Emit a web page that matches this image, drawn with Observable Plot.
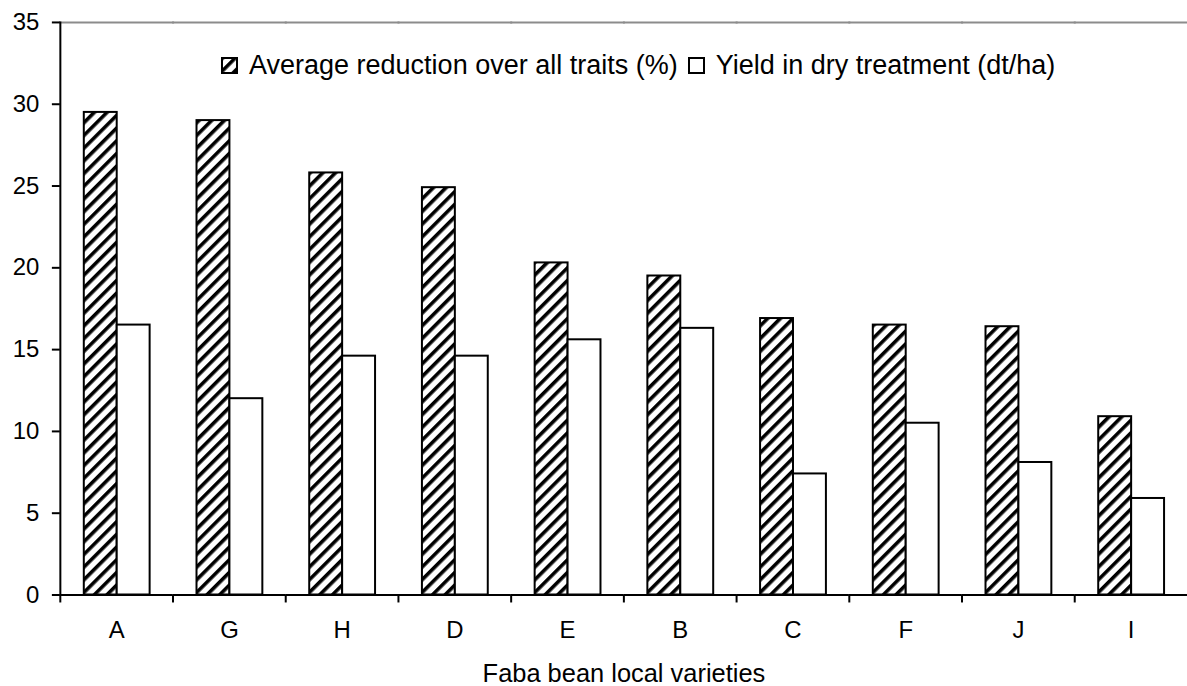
<!DOCTYPE html>
<html>
<head>
<meta charset="utf-8">
<script src="https://cdn.jsdelivr.net/npm/d3@7"></script>
<script src="https://cdn.jsdelivr.net/npm/@observablehq/plot@0.6"></script>
<style>
  html, body { margin: 0; padding: 0; background: white; overflow: hidden; }
  #wrap { position: relative; width: 1187px; height: 686px; font-family: "Liberation Sans", Arial, sans-serif; }
  #legend { position: absolute; left: 221px; top: 49px; display: flex; align-items: center; font-size: 27px; line-height: 32px; color: black; white-space: nowrap; }
  #legend svg { display: block; }
</style>
</head>
<body>
<svg width="0" height="0" style="position:absolute">
  <defs>
    <pattern id="hatch" patternUnits="userSpaceOnUse" width="9" height="9" patternTransform="rotate(45)">
      <rect width="9" height="9" fill="white"></rect>
      <rect width="3.6" height="9" fill="black"></rect>
    </pattern>
  </defs>
</svg>
<div id="wrap">
  <div id="chart"></div>
  <div id="legend"></div>
</div>
<script>
// ---- data ----
const varieties = ["A", "G", "H", "D", "E", "B", "C", "F", "J", "I"];
const reduction = [29.5, 29.0, 25.8, 24.9, 20.3, 19.5, 16.9, 16.5, 16.4, 10.9];
const yieldDry  = [16.5, 12.0, 14.6, 14.6, 15.6, 16.3, 7.4, 10.5, 8.1, 5.9];
const seriesNames = ["Average reduction over all traits (%)", "Yield in dry treatment (dt/ha)"];
const yTicks = [0, 5, 10, 15, 20, 25, 30, 35];
const xTitle = "Faba bean local varieties";

const table = [];
varieties.forEach((v, i) => {
  table.push({variety: v, series: seriesNames[0], value: reduction[i]});
  table.push({variety: v, series: seriesNames[1], value: yieldDry[i]});
});

const W = 1190, H = 686, mL = 59, mT = 22, mB = 90;
const bandW = (W - mL) / varieties.length;

const chart = Plot.plot({
  width: W,
  height: H,
  marginLeft: mL,
  marginRight: 0,
  marginTop: mT,
  marginBottom: mB,
  style: {fontFamily: "Liberation Sans, Arial, sans-serif", background: "white", color: "black", overflow: "visible"},
  fx: {domain: varieties, padding: 0, label: null},
  x: {domain: seriesNames, paddingInner: 0, paddingOuter: 0.69, axis: null},
  y: {domain: [0, 35], axis: null},
  color: {domain: seriesNames, range: ["url(#hatch)", "white"]},
  marks: [
    Plot.frame({anchor: "top", stroke: "#8c8c8c", strokeWidth: 2}),
    Plot.barY(table, {fx: "variety", x: "series", y: "value", fill: "series", stroke: "black", strokeWidth: 2}),
    Plot.ruleY([0], {stroke: "black", strokeWidth: 2}),
    Plot.frame({anchor: "left", facetAnchor: "left", stroke: "black", strokeWidth: 2}),
    Plot.axisY({ticks: yTicks, tickSize: 8, tickPadding: 13, fontSize: 24, label: null, strokeWidth: 2, strokeOpacity: 1}),
    Plot.axisFx({anchor: "bottom", tickSize: 0, tickPadding: 26, fontSize: 24, label: null}),
    Plot.axisFx({anchor: "bottom", tickSize: 8, text: null, dx: -bandW / 2, strokeWidth: 2, strokeOpacity: 1, label: null}),
    Plot.axisFx({anchor: "bottom", tickSize: 0, text: null, label: xTitle, labelAnchor: "center", fontSize: 25.5})
  ]
});
document.getElementById("chart").appendChild(chart);

// legend (inside plot area, like the original)
const legend = document.getElementById("legend");
const fills = ["url(#hatch)", "white"];
seriesNames.forEach((name, i) => {
  const sw = document.createElementNS("http://www.w3.org/2000/svg", "svg");
  sw.setAttribute("width", 17);
  sw.setAttribute("height", 17);
  sw.style.marginRight = "11px";
  sw.style.marginLeft = i === 0 ? "0px" : "10px";
  sw.innerHTML = `<rect x="1" y="1" width="15" height="15" fill="${fills[i]}" stroke="black" stroke-width="2"></rect>`;
  const span = document.createElement("span");
  span.textContent = name;
  legend.appendChild(sw);
  legend.appendChild(span);
});
</script>
</body>
</html>
